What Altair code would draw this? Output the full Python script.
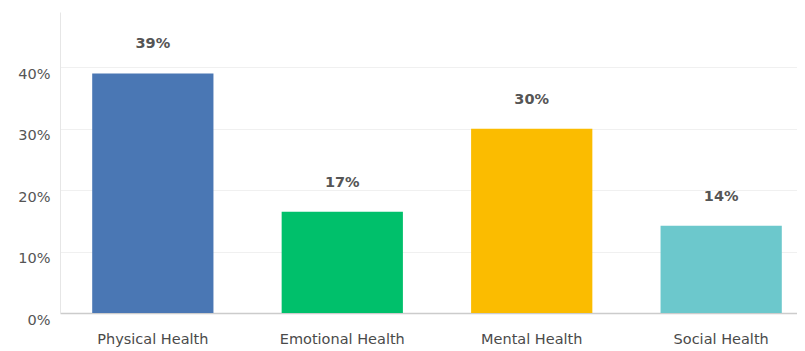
import altair as alt
import pandas as pd

categories = ["Physical Health", "Emotional Health", "Mental Health", "Social Health"]
values = [0.39, 0.165, 0.30, 0.142]
labels = ["39%", "17%", "30%", "14%"]
colors = ["#4a77b4", "#00c06b", "#fbbc00", "#6cc8cc"]

df = pd.DataFrame({"cat": categories, "val": values, "lab": labels})

FONT = "DejaVu Sans"

x = alt.X("cat:N", sort=categories, title=None,
          scale=alt.Scale(paddingInner=0.36, paddingOuter=0.17, range=[0, 754]),
          axis=alt.Axis(labelAngle=0, labelFontSize=14.5, labelColor="#4a4a4a", labelFont=FONT,
                        ticks=False, domainColor="#cccccc", labelPadding=19, domainWidth=1.5))
y = alt.Y("val:Q", title=None,
          scale=alt.Scale(domain=[0, 0.49], nice=False),
          axis=alt.Axis(format="%", values=[0, 0.1, 0.2, 0.3, 0.4], labelFontSize=14.5,
                        labelColor="#555", labelFont=FONT, ticks=False, domainColor="#e6e6e6",
                        gridColor="#f0f0f0", labelPadding=10, labelBaseline="top", labelOffset=0))

bars = alt.Chart(df).mark_bar().encode(
    x=x, y=y,
    color=alt.Color("cat:N", sort=categories, scale=alt.Scale(domain=categories, range=colors), legend=None),
)
text = alt.Chart(df).mark_text(dy=-29, fontSize=14.5, font=FONT, color="#555", fontWeight="bold").encode(
    x=alt.X("cat:N", sort=categories), y="val:Q", text="lab:N"
)

chart = (bars + text).properties(
    width=737, height=301,
    background="white",
    autosize=alt.AutoSizeParams(type="none"),
    padding={"left": 52, "top": 4, "right": 0, "bottom": 36},
).configure_view(strokeWidth=0)

chart.save("out.html", embed_options={"renderer": "svg", "actions": False})
